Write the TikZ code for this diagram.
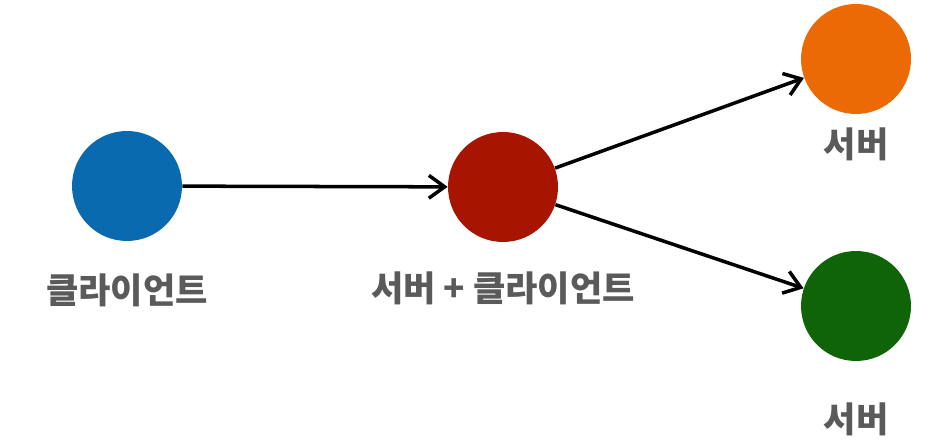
\documentclass[tikz,border=0pt]{standalone}
\usepackage{fontspec}
\newfontfamily\krfont{Noto Sans CJK KR}
\usetikzlibrary{arrows.meta}
\definecolor{clientblue}{HTML}{0A6AB0}
\definecolor{midred}{HTML}{A71400}
\definecolor{serverorange}{HTML}{EC6A05}
\definecolor{servergreen}{HTML}{0E6407}
\definecolor{labelgray}{HTML}{5A5A5A}
\begin{document}
\begin{tikzpicture}[x=0.02cm, y=-0.02cm,
    dot/.style={circle, minimum size=2.2cm, inner sep=0pt},
    lbl/.style={text=labelgray, font=\krfont\bfseries\fontsize{20}{24}\selectfont},
    link/.style={line width=2pt, -{Straight Barb[length=9pt, width=13pt, line width=2pt]}}]
    \useasboundingbox (0, 0) rectangle (942, 448);

    \node[dot, fill=clientblue] (client) at (127, 186) {};
    \node[dot, fill=midred] (both) at (503, 187) {};
    \node[dot, fill=serverorange] (serverA) at (856, 59) {};
    \node[dot, fill=servergreen] (serverB) at (856, 306) {};

    \node[lbl] (clientlbl) at (127, 290) {클라이언트};
    \node[lbl] (bothlbl) at (503, 288) {서버 + 클라이언트};
    \node[lbl] (serverAlbl) at (856, 144) {서버};
    \node[lbl] (serverBlbl) at (856, 419) {서버};

    \draw[link] (client) -- (both);
    \draw[link] (both) -- (serverA);
    \draw[link] (both) -- (serverB);
\end{tikzpicture}
\end{document}
